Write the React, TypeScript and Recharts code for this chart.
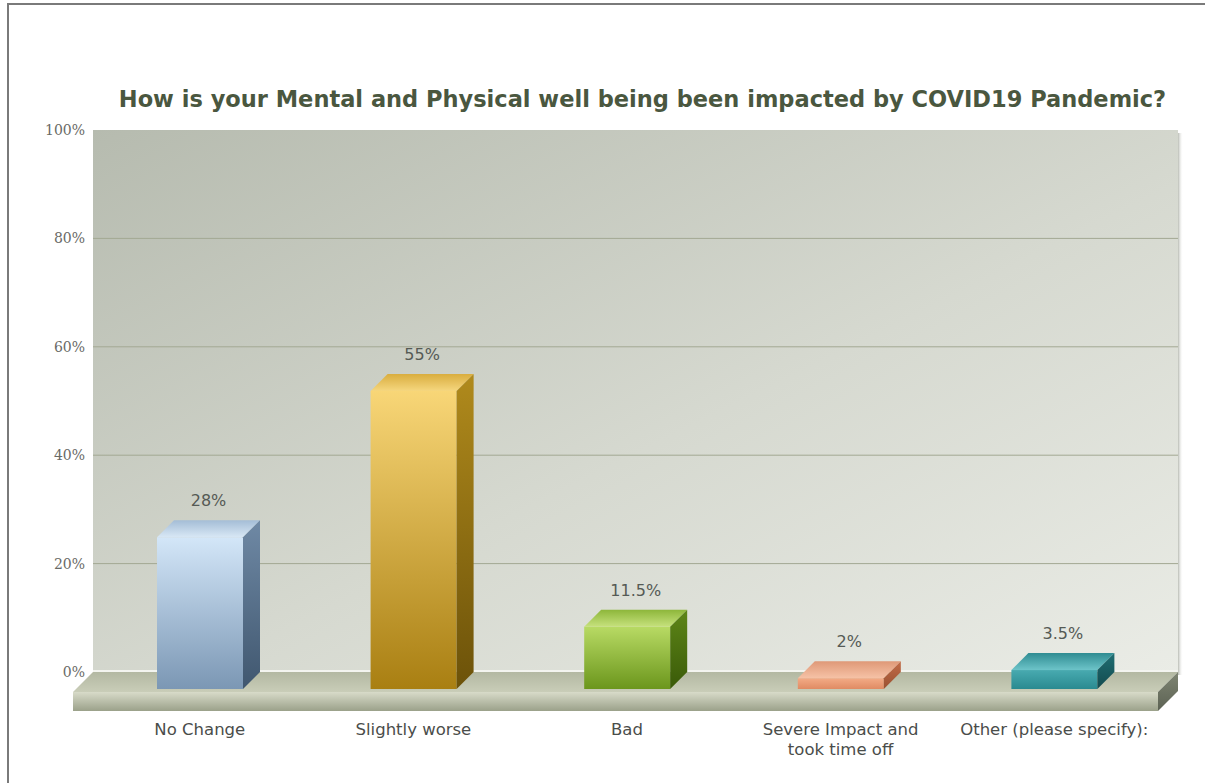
import React from "react";
import { BarChart, Bar, XAxis, YAxis, CartesianGrid, ReferenceArea } from "recharts";

const categories = [
  "No Change",
  "Slightly worse",
  "Bad",
  "Severe Impact and took time off",
  "Other (please specify):",
];
const tickLines = [
  ["No Change"],
  ["Slightly worse"],
  ["Bad"],
  ["Severe Impact and", "took time off"],
  ["Other (please specify):"],
];
const percentages = [28, 55, 11.5, 2, 3.5];
const valueLabels = ["28%", "55%", "11.5%", "2%", "3.5%"];
const yTicks = [0, 20, 40, 60, 80, 100];

const TITLE = "How is your Mental and Physical well being been impacted by COVID19 Pandemic?";

const data = categories.map((name, i) => ({ name, value: percentages[i] }));

// face colours per bar: front / top / side, each as [start, end]
const FACES = [
  { front: ["#d3e6f8", "#7b97b4"], top: ["#a4bdd6", "#d8e7f5"], side: ["#6f89a5", "#40576f"] },
  { front: ["#f8d677", "#a97f12"], top: ["#d9ad3e", "#f5d67e"], side: ["#b08a1c", "#6c5209"] },
  { front: ["#b8da64", "#6b961c"], top: ["#8db63a", "#c6e17c"], side: ["#5e8618", "#3a5a08"] },
  { front: ["#f3ab86", "#e08b63"], top: ["#df9877", "#f6c2a6"], side: ["#c26c48", "#9a5131"] },
  { front: ["#48aab0", "#2a8a90"], top: ["#2f8c92", "#6dc4c9"], side: ["#1f6e73", "#134a4e"] },
];

const D = 17; // bar depth
const F = 20; // floor depth
const T = 19; // floor thickness
const PAD_LEFT = 17; // x-axis left padding inside the wall

function Defs() {
  return (
    <svg width={0} height={0} style={{ position: "absolute" }}>
      <defs>
        <linearGradient id="wallGrad" x1="0" y1="0" x2="1" y2="1">
          <stop offset="0%" stopColor="#b6bbaf" />
          <stop offset="55%" stopColor="#d6d9d0" />
          <stop offset="100%" stopColor="#eaece6" />
        </linearGradient>
        <linearGradient id="wallShadow" x1="0" y1="0" x2="1" y2="0">
          <stop offset="0%" stopColor="#b9bcb4" />
          <stop offset="100%" stopColor="#ffffff" stopOpacity={0} />
        </linearGradient>
        <linearGradient id="floorTop" x1="0" y1="0" x2="0" y2="1">
          <stop offset="0%" stopColor="#b3b8a2" />
          <stop offset="100%" stopColor="#c9cdb8" />
        </linearGradient>
        <linearGradient id="floorFront" x1="0" y1="0" x2="0" y2="1">
          <stop offset="0%" stopColor="#d8dbc9" />
          <stop offset="100%" stopColor="#9ba18a" />
        </linearGradient>
        <linearGradient id="floorSide" x1="0" y1="0" x2="0" y2="1">
          <stop offset="0%" stopColor="#7f8573" />
          <stop offset="100%" stopColor="#5c6253" />
        </linearGradient>
        {FACES.map((c, i) => (
          <React.Fragment key={i}>
            <linearGradient id={`front${i}`} x1="0" y1="0" x2="0" y2="1">
              <stop offset="0%" stopColor={c.front[0]} />
              <stop offset="100%" stopColor={c.front[1]} />
            </linearGradient>
            <linearGradient id={`top${i}`} x1="0" y1="0" x2="0" y2="1">
              <stop offset="0%" stopColor={c.top[0]} />
              <stop offset="100%" stopColor={c.top[1]} />
            </linearGradient>
            <linearGradient id={`side${i}`} x1="0" y1="0" x2="0" y2="1">
              <stop offset="0%" stopColor={c.side[0]} />
              <stop offset="100%" stopColor={c.side[1]} />
            </linearGradient>
          </React.Fragment>
        ))}
      </defs>
    </svg>
  );
}

function Bar3D(props: any) {
  const { x, y, width, height, index } = props;
  const fx = x - D;
  const fy = y + D;
  return (
    <g>
      <rect x={fx} y={fy} width={width} height={height} fill={`url(#front${index})`} />
      <polygon
        points={`${fx},${fy} ${x},${y} ${x + width},${y} ${fx + width},${fy}`}
        fill={`url(#top${index})`}
      />
      <polygon
        points={`${fx + width},${fy} ${x + width},${y} ${x + width},${y + height} ${fx + width},${fy + height}`}
        fill={`url(#side${index})`}
      />
      <text
        x={x + width / 2 - D / 2}
        y={y - 14}
        textAnchor="middle"
        fontFamily="DejaVu Sans, Verdana, sans-serif"
        fontSize={16}
        fill="#555a55"
      >
        {valueLabels[index]}
      </text>
    </g>
  );
}

// floor slab + wall shadow, placed from the wall's own rectangle
function FloorShape(props: any) {
  const { y, width, height } = props;
  const x = props.x - PAD_LEFT;
  const w = width + PAD_LEFT;
  const bx = x + w;
  const by = y + height;
  return (
    <g>
      <rect x={bx} y={y + 3} width={5} height={height} fill="url(#wallShadow)" />
      <line x1={x} y1={by - 1} x2={bx} y2={by - 1} stroke="#f3f4ef" strokeWidth={2} />
      <polygon points={`${x},${by} ${bx},${by} ${bx - F},${by + F} ${x - F},${by + F}`} fill="url(#floorTop)" />
      <rect x={x - F} y={by + F} width={w} height={T} fill="url(#floorFront)" />
      <polygon
        points={`${bx - F},${by + F} ${bx},${by} ${bx},${by + T} ${bx - F},${by + F + T}`}
        fill="url(#floorSide)"
      />
    </g>
  );
}

function XTick(props: any) {
  const { x, y, payload } = props;
  const lines = tickLines[payload.index] || [String(payload.value)];
  return (
    <g>
      {lines.map((ln: string, k: number) => (
        <text
          key={k}
          x={x - D}
          y={y + 63 + k * 20}
          textAnchor="middle"
          fontFamily="DejaVu Sans, Verdana, sans-serif"
          fontSize={16.5}
          fill="#4a4d4a"
        >
          {ln}
        </text>
      ))}
    </g>
  );
}

function GridLine(props: any) {
  const { x1, x2, y1, y } = props;
  if (typeof y === "number" && Math.abs(y1 - y) < 1) return <g />;
  return <line x1={x1} x2={x2} y1={y1} y2={y1} stroke="#a3a893" strokeWidth={1} />;
}

export default function App() {
  return (
    <div style={{ position: "absolute", left: 0, top: 0, width: 1205, height: 783, background: "#fff", overflow: "hidden" }}>
      <Defs />
      <div
        style={{
          position: "absolute",
          left: 7,
          top: 3,
          width: 1220,
          height: 800,
          borderLeft: "2px solid #7a7a7a",
          borderTop: "2px solid #7a7a7a",
          boxSizing: "border-box",
        }}
      />
      <div
        style={{
          position: "absolute",
          left: 80,
          width: 1125,
          top: 86,
          textAlign: "center",
          fontFamily: "DejaVu Sans, Verdana, sans-serif",
          fontWeight: "bold",
          fontSize: 22.5,
          lineHeight: "26px",
          color: "#4a573f",
          whiteSpace: "nowrap",
        }}
      >
        {TITLE}
      </div>
      <div style={{ position: "absolute", left: 0, top: 0 }}>
        <BarChart
          width={1205}
          height={783}
          data={data}
          margin={{ top: 130, right: 27, bottom: 0, left: 0 }}
          barSize={86}
        >
          <CartesianGrid
            vertical={false}
            horizontal={(p: any) => <GridLine {...p} />}
            fill="url(#wallGrad)"
            fillOpacity={1}
            stroke="#a3a893"
          />
          <XAxis
            dataKey="name"
            height={111}
            axisLine={false}
            tickLine={false}
            tickSize={0}
            tickMargin={0}
            interval={0}
            padding={{ left: PAD_LEFT, right: 0 }}
            tick={(p: any) => <XTick {...p} />}
          />
          <YAxis
            width={93}
            domain={[0, 100]}
            ticks={yTicks}
            axisLine={false}
            tickLine={false}
            tickSize={6}
            tickMargin={2}
            tickFormatter={(v: number) => `${v}%`}
            tick={{ fontFamily: "DejaVu Serif, Liberation Serif, serif", fontSize: 14, fill: "#696a66" }}
          />
          <ReferenceArea y1={0} y2={100} shape={(p: any) => <FloorShape {...p} />} zIndex={-50} />
          <Bar dataKey="value" shape={(p: any) => <Bar3D {...p} />} isAnimationActive={false} />
        </BarChart>
      </div>
    </div>
  );
}
